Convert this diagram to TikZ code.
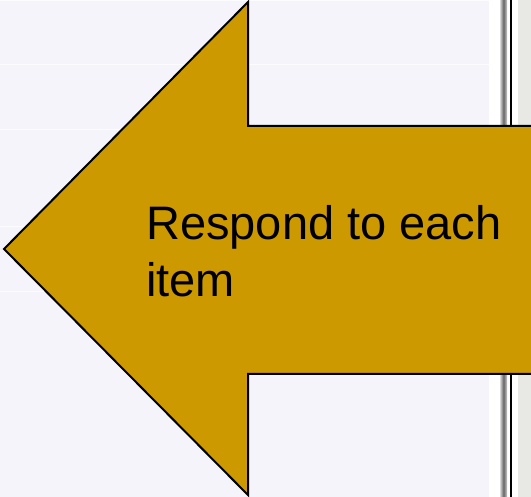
\documentclass[tikz,border=0pt]{standalone}
\usepackage{fontspec}
\setmainfont{Liberation Sans}
\usetikzlibrary{positioning}
\definecolor{pagebg}{RGB}{244,244,250}
\definecolor{rowline}{RGB}{252,252,254}
\definecolor{arrowgold}{RGB}{204,153,0}
\definecolor{paneside}{RGB}{232,232,228}

\begin{document}
\begin{tikzpicture}[
  x=1pt, y=-1pt,
  bigarrow/.style={fill=arrowgold, draw=black, line width=2pt, line join=miter},
  label/.style={align=left, font=\fontsize{47}{57}\selectfont, inner sep=0pt}
]
\useasboundingbox (0,0) rectangle (531,497);
\clip (0,0) rectangle (531,497);
% page and side pane
\fill[white] (0,0) rectangle (531,497);
\fill[pagebg] (0,0) rectangle (489,497);
\foreach \y in {1,65,130,227,292}
  \draw[rowline, line width=1pt] (0,\y) -- (489,\y);
\shade[left color=gray!30, right color=gray!40, middle color=gray!80!black] (500,0) rectangle (507,497);
\draw[line width=1.5pt] (511,0) -- (511,497);
\fill[paneside] (518,0) rectangle (531,497);
% the arrow
\coordinate (tip) at (4,249);
\coordinate (headtop) at (248,2);
\coordinate (headbot) at (248,495);
\draw[bigarrow] (540,126) -- (248,126) -- (headtop) -- (tip) -- (headbot)
  -- (248,374) -- (540,374) -- cycle;
\node[label, anchor=base west] (respond) at (146,297) {Respond to each\\item};
\end{tikzpicture}
\end{document}
